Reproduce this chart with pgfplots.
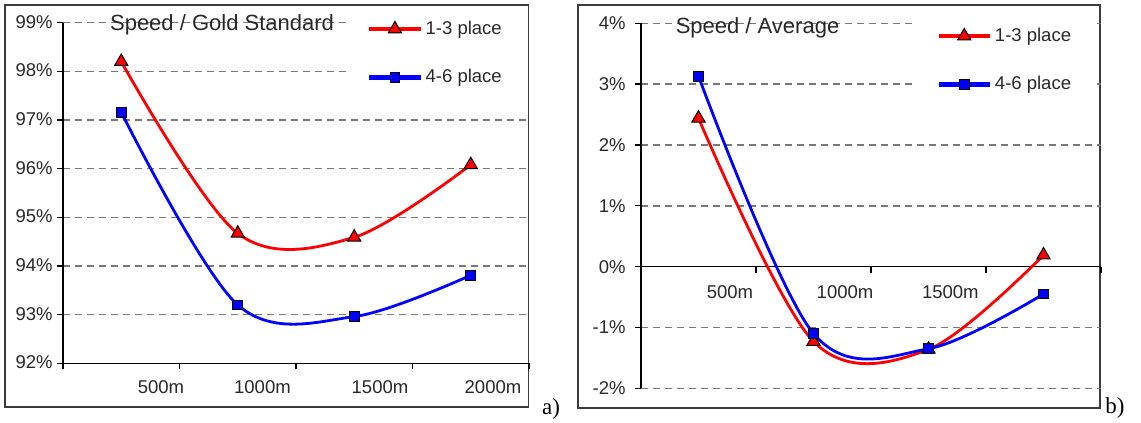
\documentclass[border=0pt]{standalone}
\usepackage{fontspec}
\setmainfont{Liberation Sans}
\newfontfamily\seriffont{Liberation Serif}
\usepackage{pgfplots}
\pgfplotsset{compat=1.18}
\definecolor{txt}{RGB}{40,40,40}
\definecolor{gridc}{RGB}{120,120,120}
\definecolor{framec}{RGB}{60,60,60}
\definecolor{myred}{RGB}{255,0,0}
\definecolor{myblue}{RGB}{0,0,255}

\pgfplotsset{
  common/.style={
    scale only axis,
    clip=false,
    axis line style={line width=0.65pt, black},
    tick style={line width=0.65pt, black},
    tick align=outside,
    major tick length=3pt,
    ymajorgrids,
    grid style={gridc, line width=0.7pt, dash pattern=on 3.5pt off 2.5pt},
    tick label style={font=\fontsize{9.25pt}{11pt}\selectfont, text=txt, inner sep=0pt},
    xmin=-0.5, xmax=3.5,
    xtick={-0.5,0.5,1.5,2.5,3.5}, xticklabels={},
    extra x tick style={major tick length=0pt},
    legend cell align=left,
    legend style={draw=none, fill=white, font=\fontsize{9.25pt}{11pt}\selectfont, text=txt,
      row sep=10pt, inner xsep=10.5pt, inner ysep=3pt,
      nodes={inner xsep=1.5pt, inner ysep=3pt}, anchor=north west},
    legend image code/.code={\draw[mark repeat=2,mark phase=2,##1,line width=2.2pt] plot coordinates {(0pt,0pt) (12.75pt,0pt) (25.5pt,0pt)};},
  },
  s1/.style={myred, line width=1.4pt, smooth, tension=0.55, mark=triangle*, mark size=3.8pt,
    mark options={fill=myred, draw=black, line width=0.5pt, solid}},
  s2/.style={myblue, line width=1.4pt, smooth, tension=0.55, mark=square*, mark size=2.4pt,
    mark options={fill=myblue, draw=black, line width=0.5pt, solid}},
}

\begin{document}
\begin{tikzpicture}
\useasboundingbox (0,0) rectangle (570.5pt,-211.5pt);
% frames
\draw[line width=0.75pt, framec] (2.5pt,-2.5pt) rectangle (264.25pt,-203.5pt);
\draw[line width=0.75pt, framec] (289pt,-2.5pt) rectangle (550pt,-204pt);

% ---------- left panel ----------
\begin{axis}[common,
  at={(31.5pt,-181.65pt)}, anchor=south west,
  width=233pt, height=170.3pt,
  ymin=92, ymax=99,
  axis x line*=bottom, axis y line*=left,
  extra x ticks={0.341,1.212,2.221,3.191},
  extra x tick labels={500m,1000m,1500m,2000m},
  xticklabel style={anchor=base, yshift=-15.2pt},
  ytick={92,93,94,95,96,97,98,99},
  yticklabels={92\%,93\%,94\%,95\%,96\%,97\%,98\%,99\%},
  yticklabel style={anchor=east, xshift=-2pt, yshift=0.5pt},
  legend style={at={(0.607,1.042)}},
]
\addplot[s1] coordinates {(0,98.20) (1,94.67) (2,94.59) (3,96.08)};
\addlegendentry{1-3 place}
\addplot[s2] coordinates {(0,97.16) (1,93.20) (2,92.96) (3,93.81)};
\addlegendentry{4-6 place}
\node[anchor=base, font=\fontsize{11pt}{13pt}\selectfont, text=txt] at (axis cs:0.865,98.85) {Speed / Gold Standard};
\end{axis}

% ---------- right panel ----------
\begin{axis}[common,
  at={(320.5pt,-194.15pt)}, anchor=south west,
  width=230pt, height=182.5pt,
  ymin=-2, ymax=4,
  axis x line*=middle, axis y line*=left,
  extra x ticks={0.274,1.274,2.19},
  extra x tick labels={500m,1000m,1500m},
  xticklabel style={anchor=base, yshift=-15.85pt},
  ytick={-2,-1,0,1,2,3,4},
  yticklabels={-2\%,-1\%,0\%,1\%,2\%,3\%,4\%},
  yticklabel style={anchor=east, xshift=-4.5pt},
  legend style={at={(0.596,1.0216)}},
]
\addplot[s1] coordinates {(0,2.44) (1,-1.23) (2,-1.36) (3,0.19)};
\addlegendentry{1-3 place}
\addplot[s2] coordinates {(0,3.13) (1,-1.10) (2,-1.35) (3,-0.45)};
\addlegendentry{4-6 place}
\node[anchor=base, font=\fontsize{11pt}{13pt}\selectfont, text=txt] at (axis cs:0.513,3.84) {Speed / Average};
\end{axis}

\node[font=\seriffont\fontsize{11.5pt}{13pt}\selectfont, text=black] at (275.5pt,-204.5pt) {a)};
\node[font=\seriffont\fontsize{11.5pt}{13pt}\selectfont, text=black] at (557.5pt,-204pt) {b)};
\end{tikzpicture}
\end{document}
